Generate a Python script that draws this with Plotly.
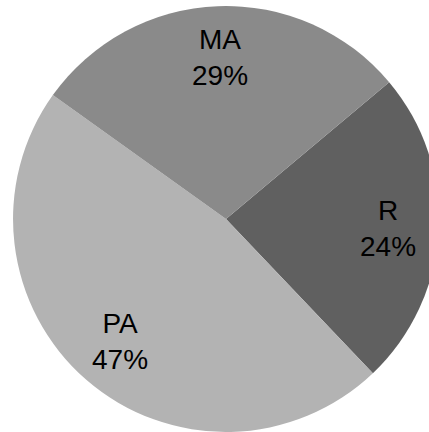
import math
import plotly.graph_objects as go

labels = ["R", "PA", "MA"]
values = [24, 47, 29]
colors = ["#606060", "#b3b3b3", "#8a8a8a"]

W, H = 440, 432
dom_x = [0.0273, 1.0]
dom_y = [0.0, 0.986]
rotation = 50
label_r = 0.76

fig = go.Figure(go.Pie(
    labels=labels, values=values, sort=False, direction="clockwise",
    rotation=rotation, textinfo="none", hoverinfo="label+percent",
    marker=dict(colors=colors, line=dict(width=0)),
    domain=dict(x=dom_x, y=dom_y), showlegend=False,
))

# label positions derived from the data
cx = (dom_x[0] + dom_x[1]) / 2 * W
cy = (dom_y[0] + dom_y[1]) / 2 * H
r = min((dom_x[1] - dom_x[0]) * W, (dom_y[1] - dom_y[0]) * H) / 2
total = sum(values)
ang = rotation
for lab, v in zip(labels, values):
    span = v / total * 360
    mid = math.radians(ang + span / 2)
    ang += span
    px = cx + label_r * r * math.sin(mid)
    py = cy + label_r * r * math.cos(mid)
    fig.add_annotation(
        x=px / W, y=py / H, xref="paper", yref="paper",
        text=f"{lab}<br>{round(v / total * 100)}%", showarrow=False,
        font=dict(family="Liberation Sans, Arial, sans-serif", size=28, color="#000000"),
        xanchor="center", yanchor="middle",
    )

fig.update_layout(
    width=W, height=H, margin=dict(l=0, r=0, t=0, b=0),
    paper_bgcolor="white", plot_bgcolor="white",
)
fig.write_html("out.html", post_script="document.body.style.overflow='hidden';document.body.style.margin='0';")
